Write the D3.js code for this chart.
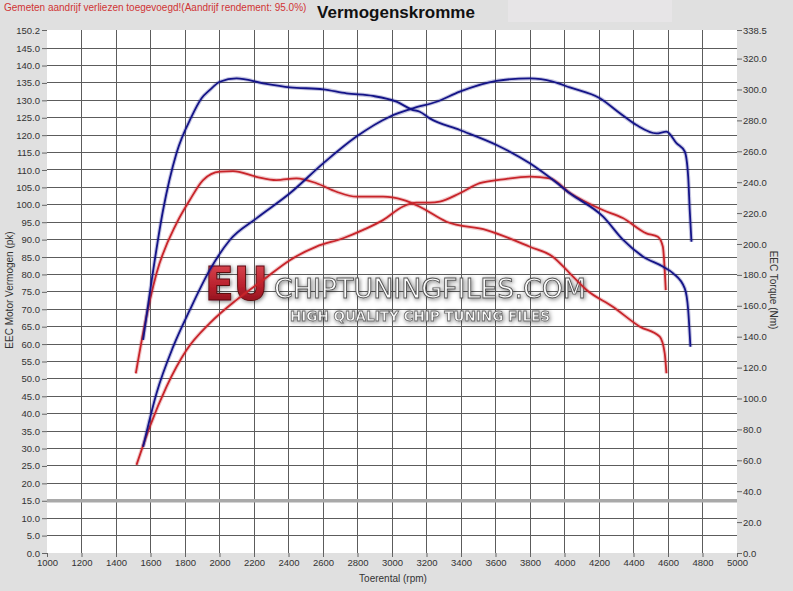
<!DOCTYPE html>
<html><head><meta charset="utf-8">
<script src="https://cdn.jsdelivr.net/npm/d3@7"></script>
<style>
html,body{margin:0;padding:0;background:#e0e0e0;}
svg{display:block;font-family:"Liberation Sans",Arial,sans-serif;}
</style></head>
<body><svg id="c" width="793" height="591"></svg>
<script>
// ---- data ----
const rpmTicks = d3.range(1000, 5001, 200);
const powerTicks = [0,5,10,15,20,25,30,35,40,45,50,55,60,65,70,75,80,85,90,95,100,105,110,115,120,125,130,135,140,145,150.2];
const torqueTicks = [0,20,40,60,80,100,120,140,160,180,200,220,240,260,280,300,320,338.5];

const tunedTorqueRpm = [1557,1596,1673,1751,1838,1896,1944,2002,2099,2253,2408,2601,2736,2890,3026,3122,3161,3219,3393,3606,3799,3934,4031,4224,4340,4456,4572,4630,4697,4717,4730];
const tunedTorqueNm  = [137.9,168.3,222.0,258.9,282.4,294.3,299.7,305.0,307.2,304.0,301.4,300.1,297.5,295.8,292.1,286.7,285.6,281.3,273.8,264.1,252.2,241.4,232.8,217.7,202.6,191.8,185.3,181.0,171.3,157.3,133.5];

const tunedPowerRpm = [1557,1635,1731,1828,1944,2060,2214,2408,2601,2794,2987,3122,3258,3393,3606,3799,3932,4031,4205,4321,4417,4533,4591,4649,4697,4717,4726,4736];
const tunedPowerPk  = [30.5,45.9,59.2,69.8,81.3,89.9,96.1,103.3,111.9,119.6,125.3,127.7,129.6,132.5,135.6,136.3,135.4,133.7,130.6,126.3,122.9,120.5,121.0,117.7,115.3,108.1,98.5,89.4];

const stockTorqueRpm = [1515,1557,1635,1751,1828,1905,2002,2079,2214,2330,2446,2562,2678,2794,2948,3064,3161,3316,3548,3799,3932,4031,4128,4280,4437,4552,4581,4591];
const stockTorqueNm  = [116.3,142.2,181.0,213.4,228.5,241.4,246.8,247.2,243.5,241.4,242.5,239.3,233.8,230.6,230.6,228.5,224.1,214.4,209.0,198.2,191.8,181.0,170.2,159.4,146.5,140.0,129.2,116.3];

const stockPowerRpm = [1519,1596,1693,1809,1944,2099,2253,2408,2562,2717,2833,2948,3064,3142,3219,3277,3393,3509,3644,3799,3915,4031,4222,4338,4475,4541,4570,4587];
const stockPowerPk  = [25.3,36.3,47.8,58.3,66.0,72.7,78.4,84.1,88.0,90.4,92.8,95.6,99.5,100.6,100.6,100.9,103.3,106.2,107.3,108.1,107.6,103.4,98.5,96.2,91.8,90.8,88.0,75.5];

// ---- layout ----
const svg = d3.select("#c");
const L = 47, R = 737, T = 30, B = 553;
const x = d3.scaleLinear().domain([1000,5000]).range([L,R]);
const yP = d3.scaleLinear().domain([0,150.2]).range([B,T]);
const yT = d3.scaleLinear().domain([0,338.5]).range([B,T]);

// header
svg.append("rect").attr("x",508).attr("y",0).attr("width",164).attr("height",22).attr("fill","#e7e5e7");
svg.append("text").attr("x",4).attr("y",11).attr("font-size",10).attr("fill","#d03434")
  .text("Gemeten aandrijf verliezen toegevoegd!(Aandrijf rendement: 95.0%)");
svg.append("text").attr("x",396).attr("y",18).attr("text-anchor","middle").attr("font-size",17)
  .attr("font-weight","bold").attr("fill","#111").text("Vermogenskromme");

// plot bg
svg.append("rect").attr("x",L).attr("y",T).attr("width",R-L).attr("height",B-T).attr("fill","#fff");

// grid
const g = svg.append("g");
g.selectAll("line.v").data(rpmTicks.slice(1,-1)).join("line")
  .attr("x1",d=>x(d)).attr("x2",d=>x(d)).attr("y1",T).attr("y2",B)
  .attr("stroke","#5c5c5c").attr("stroke-width",1).attr("shape-rendering","crispEdges");
g.selectAll("line.h").data(powerTicks.slice(1,-1)).join("line")
  .attr("x1",L).attr("x2",R).attr("y1",d=>yP(d)).attr("y2",d=>yP(d))
  .attr("stroke","#5c5c5c").attr("stroke-width",1).attr("shape-rendering","crispEdges");
svg.append("line").attr("x1",L).attr("x2",R).attr("y1",yP(15)).attr("y2",yP(15))
  .attr("stroke","#a9a9a9").attr("stroke-width",3.5);

// axes
const axL = d3.axisLeft(yP).tickValues(powerTicks).tickFormat(d3.format(".1f")).tickSize(5).tickPadding(2);
const axR = d3.axisRight(yT).tickValues(torqueTicks).tickFormat(d3.format(".1f")).tickSize(5).tickPadding(1);
const axB = d3.axisBottom(x).tickValues(rpmTicks).tickFormat(d3.format("d")).tickSize(4).tickPadding(2);
function style(sel){
  sel.select(".domain").remove();
  sel.selectAll("line").attr("stroke","#666");
  sel.selectAll("text").attr("font-size",9.5).attr("fill","#333").attr("font-family","Liberation Sans, Arial, sans-serif");
}
svg.append("g").attr("transform",`translate(${L},0)`).call(axL).call(style);
svg.append("g").attr("transform",`translate(${R},0)`).call(axR).call(style);
svg.append("g").attr("transform",`translate(0,${B})`).call(axB).call(style);

// axis titles
svg.append("text").attr("transform","translate(13,290) rotate(-90)").attr("text-anchor","middle")
  .attr("font-size",10).attr("fill","#333").text("EEC Motor Vermogen (pk)");
svg.append("text").attr("transform","translate(770,290) rotate(90)").attr("text-anchor","middle")
  .attr("font-size",10).attr("fill","#333").text("EEC Torque (Nm)");
svg.append("text").attr("x",393).attr("y",582).attr("text-anchor","middle")
  .attr("font-size",10).attr("fill","#333").text("Toerental (rpm)");

// watermark
const defs = svg.append("defs");
const f = defs.append("filter").attr("id","sh").attr("x","-10%").attr("y","-30%").attr("width","120%").attr("height","160%");
f.append("feGaussianBlur").attr("in","SourceAlpha").attr("stdDeviation",2).attr("result","b");
f.append("feOffset").attr("in","b").attr("dx",1).attr("dy",1).attr("result","o");
f.append("feFlood").attr("flood-color","#000").attr("flood-opacity",0.55);
f.append("feComposite").attr("in2","o").attr("operator","in").attr("result","s");
const m = f.append("feMerge"); m.append("feMergeNode").attr("in","s"); m.append("feMergeNode").attr("in","SourceGraphic");
const gr = defs.append("linearGradient").attr("id","eu").attr("x1",0).attr("y1",0).attr("x2",0).attr("y2",1);
gr.append("stop").attr("offset","0%").attr("stop-color","#e2505a");
gr.append("stop").attr("offset","55%").attr("stop-color","#b8202c");
gr.append("stop").attr("offset","100%").attr("stop-color","#7a0e18");
const wm = svg.append("g").attr("filter","url(#sh)");
wm.append("text").attr("x",205).attr("y",300).attr("font-size",46).attr("font-weight","bold")
  .attr("font-family","DejaVu Sans, sans-serif").attr("textLength",63).attr("lengthAdjust","spacingAndGlyphs")
  .attr("fill","url(#eu)").attr("stroke","#5a0a10").attr("stroke-width",1).text("EU");
wm.append("text").attr("x",274).attr("y",298).attr("font-size",27)
  .attr("font-family","DejaVu Sans, sans-serif").attr("textLength",312).attr("lengthAdjust","spacingAndGlyphs")
  .attr("fill","#fbfbfb").attr("stroke","#555").attr("stroke-width",0.9).text("CHIPTUNINGFILES.COM");
wm.append("text").attr("x",290).attr("y",321).attr("font-size",14).attr("font-weight","bold")
  .attr("font-family","DejaVu Sans, sans-serif").attr("textLength",260).attr("lengthAdjust","spacingAndGlyphs")
  .attr("fill","#fafafa").attr("stroke","#666").attr("stroke-width",0.8).text("HIGH QUALITY CHIP TUNING FILES");

// curves
function draw(rpms, vals, yScale, color){
  const pts = rpms.map((r,i)=>[x(r), yScale(vals[i])]);
  const line = d3.line().curve(d3.curveMonotoneX);
  svg.append("path").attr("d",line(pts)).attr("fill","none").attr("stroke",color)
    .attr("stroke-opacity",0.25).attr("stroke-width",4);
  svg.append("path").attr("d",line(pts)).attr("fill","none").attr("stroke",color)
    .attr("stroke-width",1.8).attr("stroke-linejoin","round");
}
draw(stockPowerRpm, stockPowerPk, yP, "#c8242a");
draw(stockTorqueRpm, stockTorqueNm, yT, "#c8242a");
draw(tunedPowerRpm, tunedPowerPk, yP, "#141488");
draw(tunedTorqueRpm, tunedTorqueNm, yT, "#141488");
</script></body></html>
